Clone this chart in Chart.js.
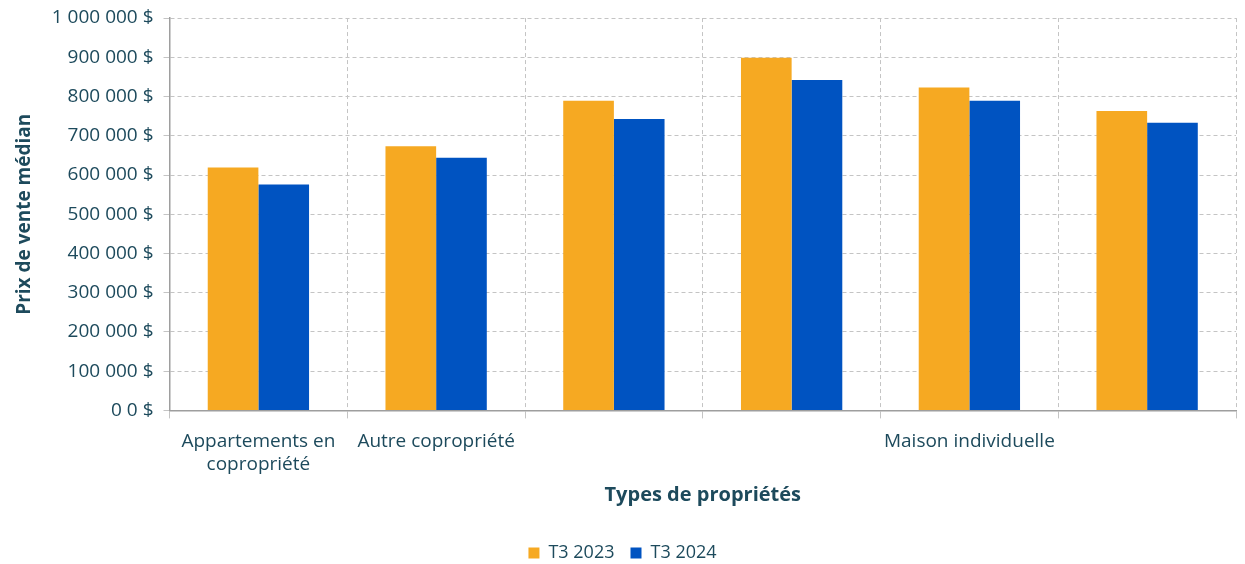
<!DOCTYPE html>
<html>
<head>
<meta charset="utf-8">
<script src="https://cdn.jsdelivr.net/npm/chart.js@4/dist/chart.umd.min.js"></script>
<style>
  html, body { margin: 0; padding: 0; background: #fff; }
  #wrap { width: 1245px; height: 564px; }
</style>
</head>
<body>
<div id="wrap"><canvas id="prixChart"></canvas></div>
<script>
// categories (some groups have no visible label in the original)
const categories = [
  ["Appartements en", "copropriété"],
  "Autre copropriété",
  "",
  "",
  "Maison individuelle",
  ""
];
const seriesNames = ["T3 2023", "T3 2024"];
const t3_2023 = [619000, 673000, 789000, 899000, 823000, 763000];
const t3_2024 = [576000, 644000, 743000, 842000, 789000, 733000];
const yTickLabels = ["0 0 $", "100 000 $", "200 000 $", "300 000 $", "400 000 $", "500 000 $",
  "600 000 $", "700 000 $", "800 000 $", "900 000 $", "1 000 000 $"];

const textColor = "#1d4a5c";
const gridColor = "#c4c4c4";
const fontFamily = "'Open Sans', sans-serif";

const ctx = document.getElementById("prixChart").getContext("2d");
new Chart(ctx, {
  type: "bar",
  data: {
    labels: categories,
    datasets: [
      { label: seriesNames[0], data: t3_2023, backgroundColor: "#f6a922" },
      { label: seriesNames[1], data: t3_2024, backgroundColor: "#0053c1" }
    ]
  },
  options: {
    responsive: true,
    maintainAspectRatio: false,
    animation: false,
    layout: { padding: { left: 9, right: 9, top: 0, bottom: -8 } },
    datasets: { bar: { barPercentage: 1, categoryPercentage: 0.57 } },
    plugins: {
      tooltip: { enabled: false },
      legend: {
        position: "bottom",
        labels: {
          color: textColor,
          boxWidth: 11,
          boxHeight: 11,
          padding: 16,
          font: { family: fontFamily, size: 18 }
        }
      }
    },
    scales: {
      x: {
        grid: { color: gridColor, offset: true, tickLength: 8 },
        border: { color: "#9e9e9e", width: 1.5, dash: [4, 3] },
        ticks: {
          color: textColor,
          maxRotation: 0,
          autoSkip: false,
          padding: 12,
          font: { family: fontFamily, size: 19, lineHeight: 1.2 }
        },
        title: {
          display: true,
          text: "Types de propriétés",
          color: textColor,
          padding: { top: -5, bottom: 21 },
          font: { family: fontFamily, size: 20, weight: "bold" }
        }
      },
      y: {
        min: 0,
        max: 1000000,
        grid: { color: gridColor, tickLength: 6 },
        border: { color: "#9e9e9e", width: 1.5, dash: [4, 3] },
        ticks: {
          stepSize: 100000,
          color: textColor,
          padding: 10,
          font: { family: fontFamily, size: 19, lineHeight: 0.85 },
          callback: (v, i) => yTickLabels[i]
        },
        title: {
          display: true,
          text: "Prix de vente médian",
          color: textColor,
          padding: { bottom: 6 },
          font: { family: fontFamily, size: 19, weight: "bold" }
        }
      }
    }
  }
});
</script>
</body>
</html>
